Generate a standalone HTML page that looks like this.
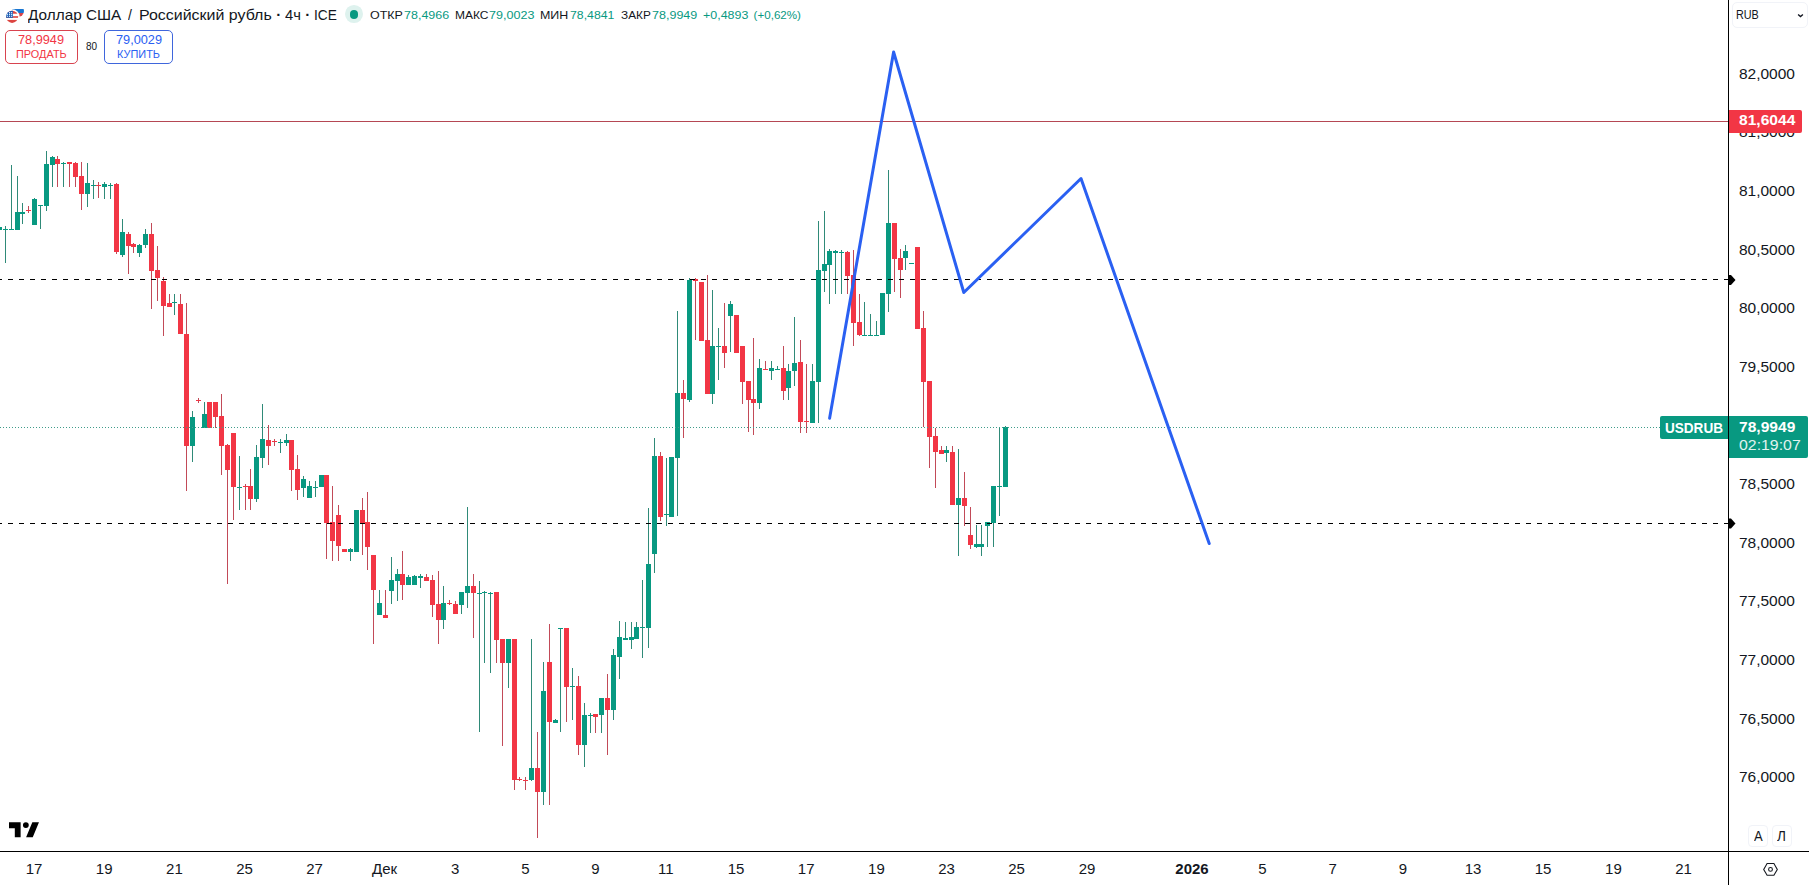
<!DOCTYPE html>
<html lang="ru"><head><meta charset="utf-8"><title>USDRUB</title>
<style>
html,body{margin:0;padding:0;background:#fff}
body{width:1809px;height:885px;position:relative;overflow:hidden;font-family:"Liberation Sans",sans-serif;color:#131722}
.t{position:absolute;white-space:nowrap;transform-origin:0 50%}
.bx{position:absolute;box-sizing:border-box}
</style></head><body>
<svg width="1809" height="885" viewBox="0 0 1809 885" style="position:absolute;left:0;top:0" shape-rendering="crispEdges">
<rect x="0" y="121" width="1728" height="1" fill="#b54854"/>
<path fill="#2f8a78" d="M5 226h1v3h-1zM5 230h1v33h-1zM11 165h1v64h-1zM17 176h1v36h-1zM22 203h1v9h-1zM22 214h1v10h-1zM34 198h1v1h-1zM40 206h1v23h-1zM46 151h1v13h-1zM46 206h1v5h-1zM52 156h1v1h-1zM52 165h1v22h-1zM63 162h1v1h-1zM63 164h1v23h-1zM87 163h1v20h-1zM87 194h1v13h-1zM93 180h1v5h-1zM93 186h1v13h-1zM104 182h1v2h-1zM104 187h1v12h-1zM110 183h1v2h-1zM110 186h1v13h-1zM122 219h1v13h-1zM122 255h1v2h-1zM139 244h1v1h-1zM139 253h1v4h-1zM145 229h1v5h-1zM145 245h1v3h-1zM174 294h1v8h-1zM174 303h1v12h-1zM192 411h1v6h-1zM192 446h1v16h-1zM204 402h1v12h-1zM239 456h1v31h-1zM239 488h1v22h-1zM256 445h1v12h-1zM256 499h1v3h-1zM262 404h1v35h-1zM262 458h1v10h-1zM280 439h1v3h-1zM280 443h1v10h-1zM286 434h1v6h-1zM286 443h1v3h-1zM303 476h1v3h-1zM303 488h1v9h-1zM309 481h1v5h-1zM315 481h1v6h-1zM315 488h1v9h-1zM350 548h1v1h-1zM350 552h1v9h-1zM379 590h1v13h-1zM391 557h1v23h-1zM391 591h1v13h-1zM397 569h1v5h-1zM397 581h1v20h-1zM408 575h1v2h-1zM414 575h1v1h-1zM420 574h1v2h-1zM420 578h1v10h-1zM443 586h1v17h-1zM443 620h1v9h-1zM461 605h1v9h-1zM467 507h1v79h-1zM467 593h1v15h-1zM479 581h1v12h-1zM479 594h1v138h-1zM484 591h1v1h-1zM484 593h1v70h-1zM490 592h1v1h-1zM490 594h1v79h-1zM508 663h1v25h-1zM531 639h1v129h-1zM531 780h1v1h-1zM543 662h1v29h-1zM543 792h1v13h-1zM555 719h1v1h-1zM560 629h1v103h-1zM572 668h1v18h-1zM572 687h1v33h-1zM584 703h1v12h-1zM584 745h1v22h-1zM590 713h1v2h-1zM590 716h1v17h-1zM601 715h1v18h-1zM613 649h1v6h-1zM613 710h1v10h-1zM619 621h1v16h-1zM619 657h1v22h-1zM625 622h1v16h-1zM631 622h1v15h-1zM631 640h1v9h-1zM636 622h1v5h-1zM642 580h1v47h-1zM642 628h1v30h-1zM648 508h1v56h-1zM648 628h1v20h-1zM654 438h1v18h-1zM654 554h1v19h-1zM666 458h1v56h-1zM666 515h1v11h-1zM677 311h1v82h-1zM677 458h1v58h-1zM689 278h1v2h-1zM689 400h1v2h-1zM712 290h1v56h-1zM712 394h1v10h-1zM718 328h1v18h-1zM718 347h1v33h-1zM730 301h1v3h-1zM730 316h1v36h-1zM759 359h1v9h-1zM759 403h1v6h-1zM771 361h1v7h-1zM771 371h1v9h-1zM777 366h1v3h-1zM788 364h1v7h-1zM788 388h1v12h-1zM794 317h1v46h-1zM794 371h1v15h-1zM812 364h1v17h-1zM818 221h1v49h-1zM818 382h1v41h-1zM824 211h1v53h-1zM824 271h1v21h-1zM829 249h1v2h-1zM829 265h1v39h-1zM835 250h1v1h-1zM835 253h1v41h-1zM841 250h1v2h-1zM841 253h1v41h-1zM864 302h1v33h-1zM870 314h1v21h-1zM876 321h1v14h-1zM888 170h1v53h-1zM888 294h1v18h-1zM905 245h1v6h-1zM905 258h1v12h-1zM946 446h1v4h-1zM946 453h1v9h-1zM958 449h1v49h-1zM958 505h1v51h-1zM976 525h1v19h-1zM976 547h1v1h-1zM981 525h1v19h-1zM981 547h1v9h-1zM987 526h1v21h-1zM993 523h1v24h-1zM999 427h1v59h-1zM999 487h1v29h-1zM1005 426h1v1h-1z"/>
<path fill="#c24a58" d="M28 206h1v4h-1zM28 211h1v2h-1zM57 156h1v3h-1zM57 164h1v23h-1zM69 164h1v23h-1zM75 162h1v1h-1zM75 177h1v10h-1zM81 162h1v14h-1zM81 194h1v16h-1zM98 182h1v3h-1zM98 186h1v12h-1zM116 183h1v1h-1zM116 252h1v2h-1zM128 232h1v2h-1zM128 246h1v28h-1zM133 243h1v1h-1zM133 247h1v6h-1zM151 223h1v11h-1zM151 271h1v38h-1zM157 246h1v24h-1zM157 278h1v23h-1zM163 277h1v4h-1zM163 306h1v30h-1zM169 294h1v9h-1zM180 294h1v10h-1zM186 303h1v31h-1zM186 446h1v45h-1zM198 398h1v2h-1zM198 401h1v2h-1zM215 417h1v11h-1zM221 394h1v22h-1zM221 446h1v29h-1zM227 444h1v1h-1zM227 470h1v114h-1zM233 487h1v33h-1zM245 484h1v2h-1zM245 487h1v23h-1zM250 469h1v17h-1zM250 499h1v11h-1zM268 425h1v15h-1zM268 446h1v19h-1zM274 439h1v2h-1zM274 442h1v4h-1zM291 470h1v21h-1zM297 455h1v14h-1zM297 490h1v10h-1zM326 523h1v36h-1zM332 486h1v36h-1zM332 541h1v20h-1zM338 505h1v10h-1zM338 546h1v15h-1zM362 498h1v12h-1zM362 523h1v32h-1zM367 492h1v30h-1zM367 547h1v23h-1zM373 590h1v54h-1zM385 590h1v25h-1zM402 551h1v23h-1zM402 585h1v15h-1zM426 574h1v3h-1zM432 575h1v5h-1zM432 605h1v12h-1zM438 571h1v33h-1zM438 620h1v24h-1zM449 600h1v3h-1zM449 604h1v1h-1zM455 601h1v3h-1zM473 574h1v12h-1zM473 593h1v45h-1zM496 640h1v23h-1zM502 663h1v83h-1zM514 780h1v10h-1zM519 777h1v2h-1zM519 780h1v1h-1zM525 777h1v3h-1zM525 781h1v9h-1zM537 732h1v36h-1zM537 792h1v46h-1zM549 624h1v38h-1zM549 722h1v83h-1zM566 687h1v35h-1zM578 676h1v10h-1zM578 745h1v10h-1zM595 717h1v16h-1zM607 674h1v24h-1zM607 710h1v45h-1zM660 452h1v4h-1zM660 517h1v4h-1zM683 380h1v13h-1zM683 399h1v39h-1zM695 278h1v1h-1zM695 281h1v59h-1zM707 275h1v65h-1zM724 303h1v43h-1zM724 353h1v15h-1zM742 382h1v22h-1zM748 400h1v32h-1zM753 338h1v61h-1zM753 403h1v32h-1zM765 361h1v8h-1zM783 346h1v22h-1zM783 391h1v9h-1zM800 340h1v22h-1zM800 422h1v11h-1zM806 364h1v57h-1zM806 422h1v11h-1zM847 251h1v1h-1zM847 276h1v18h-1zM853 250h1v25h-1zM853 323h1v23h-1zM859 294h1v28h-1zM859 335h1v1h-1zM894 259h1v33h-1zM900 249h1v9h-1zM900 270h1v28h-1zM923 311h1v17h-1zM923 382h1v45h-1zM929 437h1v31h-1zM935 428h1v8h-1zM935 452h1v36h-1zM941 446h1v4h-1zM952 446h1v6h-1zM964 472h1v26h-1zM964 506h1v20h-1zM970 507h1v28h-1zM970 545h1v4h-1z"/>
<path fill="#089981" d="M-3 227h5v3h-5zM3 229h5v1h-5zM9 229h5v1h-5zM15 212h5v18h-5zM20 212h5v2h-5zM32 199h5v26h-5zM38 205h5v1h-5zM44 164h5v42h-5zM50 157h5v8h-5zM61 163h5v1h-5zM85 183h5v11h-5zM91 185h5v1h-5zM102 184h5v3h-5zM108 185h5v1h-5zM120 232h5v23h-5zM137 245h5v8h-5zM143 234h5v11h-5zM172 302h5v1h-5zM190 417h5v29h-5zM202 414h5v14h-5zM237 487h5v1h-5zM254 457h5v42h-5zM260 439h5v19h-5zM278 442h5v1h-5zM284 440h5v3h-5zM301 479h5v9h-5zM307 486h5v12h-5zM313 487h5v1h-5zM319 475h5v12h-5zM348 549h5v3h-5zM354 510h5v42h-5zM377 603h5v12h-5zM389 580h5v11h-5zM395 574h5v7h-5zM406 577h5v8h-5zM412 576h5v9h-5zM418 576h5v2h-5zM441 603h5v17h-5zM459 592h5v13h-5zM465 586h5v7h-5zM477 593h5v1h-5zM482 592h5v1h-5zM488 593h5v1h-5zM506 639h5v24h-5zM529 768h5v12h-5zM541 691h5v101h-5zM553 720h5v3h-5zM558 628h5v1h-5zM570 686h5v1h-5zM582 715h5v30h-5zM588 715h5v1h-5zM599 698h5v17h-5zM611 655h5v55h-5zM617 637h5v20h-5zM623 638h5v2h-5zM629 637h5v3h-5zM634 627h5v12h-5zM640 627h5v1h-5zM646 564h5v64h-5zM652 456h5v98h-5zM664 514h5v1h-5zM669 457h5v60h-5zM675 393h5v65h-5zM687 280h5v120h-5zM710 346h5v48h-5zM716 346h5v1h-5zM728 304h5v12h-5zM757 368h5v35h-5zM769 368h5v3h-5zM775 369h5v1h-5zM786 371h5v17h-5zM792 363h5v8h-5zM810 381h5v42h-5zM816 270h5v112h-5zM822 264h5v7h-5zM827 251h5v14h-5zM833 251h5v2h-5zM839 252h5v1h-5zM862 335h5v1h-5zM868 335h5v1h-5zM874 335h5v1h-5zM880 293h5v42h-5zM886 223h5v71h-5zM903 251h5v7h-5zM909 263h5v1h-5zM944 450h5v3h-5zM956 498h5v7h-5zM974 544h5v3h-5zM979 544h5v3h-5zM985 522h5v4h-5zM991 486h5v37h-5zM997 486h5v1h-5zM1003 427h5v60h-5z"/>
<path fill="#F23645" d="M26 210h5v1h-5zM55 159h5v5h-5zM67 162h5v2h-5zM73 163h5v14h-5zM79 176h5v18h-5zM96 185h5v1h-5zM114 184h5v68h-5zM126 234h5v12h-5zM131 244h5v3h-5zM149 234h5v37h-5zM155 270h5v8h-5zM161 281h5v25h-5zM167 303h5v4h-5zM178 304h5v30h-5zM184 334h5v112h-5zM196 400h5v1h-5zM207 402h5v26h-5zM213 402h5v15h-5zM219 416h5v30h-5zM225 445h5v25h-5zM231 433h5v54h-5zM243 486h5v1h-5zM248 486h5v13h-5zM266 440h5v6h-5zM272 441h5v1h-5zM289 440h5v30h-5zM295 469h5v21h-5zM324 475h5v48h-5zM330 522h5v19h-5zM336 515h5v31h-5zM342 549h5v3h-5zM360 510h5v13h-5zM365 522h5v25h-5zM371 555h5v35h-5zM383 615h5v3h-5zM400 574h5v11h-5zM424 577h5v4h-5zM430 580h5v25h-5zM436 604h5v16h-5zM447 603h5v1h-5zM453 604h5v10h-5zM471 586h5v7h-5zM494 592h5v48h-5zM500 639h5v24h-5zM512 639h5v141h-5zM517 779h5v1h-5zM523 780h5v1h-5zM535 768h5v24h-5zM547 662h5v60h-5zM564 628h5v59h-5zM576 686h5v59h-5zM593 714h5v3h-5zM605 698h5v12h-5zM658 456h5v61h-5zM681 393h5v6h-5zM693 279h5v2h-5zM699 282h5v59h-5zM705 340h5v54h-5zM722 346h5v7h-5zM734 315h5v38h-5zM740 346h5v36h-5zM746 381h5v19h-5zM751 399h5v4h-5zM763 369h5v1h-5zM781 368h5v23h-5zM798 362h5v60h-5zM804 421h5v1h-5zM845 252h5v24h-5zM851 275h5v48h-5zM857 322h5v13h-5zM892 223h5v36h-5zM898 258h5v12h-5zM915 247h5v82h-5zM921 328h5v54h-5zM927 381h5v56h-5zM933 436h5v16h-5zM939 450h5v4h-5zM950 452h5v53h-5zM962 498h5v8h-5zM968 535h5v10h-5z"/>
<path d="M-3 279.5H1728M-3 523.5H1728" stroke="#000" stroke-width="1" stroke-dasharray="5 6" fill="none"/>
<path d="M0 427.5H1660" stroke="#3f9c8a" stroke-width="1" stroke-dasharray="1 2" fill="none"/>
<polyline points="829.6,418.2 893.6,52 963.8,292.5 1081,178.5 1209.2,543.5" fill="none" stroke="#2a60f2" stroke-width="3" stroke-linejoin="round" stroke-linecap="round" shape-rendering="geometricPrecision"/>
<rect x="1728" y="0" width="1" height="885" fill="#000"/>
<rect x="0" y="851" width="1809" height="1" fill="#000"/>
<g shape-rendering="geometricPrecision" fill="#000">
<path d="M1729 275h2l4.5 5l-4.5 5h-2z"/>
<path d="M1729 518.5h2l4.5 5l-4.5 5h-2z"/>
</g>
</svg>
<svg width="30" height="30" viewBox="0 0 30 30" style="position:absolute;left:0;top:0">
<defs><clipPath id="ru"><circle cx="17.9" cy="11" r="6.1"/></clipPath><clipPath id="us"><circle cx="12.1" cy="16.8" r="6.1"/></clipPath></defs>
<g clip-path="url(#ru)"><rect x="10" y="4" width="16" height="5" fill="#fff"/><rect x="10" y="9" width="16" height="4" fill="#1976d2"/><rect x="10" y="13" width="16" height="6" fill="#d9434a"/></g>
<circle cx="12.1" cy="16.8" r="7.6" fill="#fff"/>
<g clip-path="url(#us)"><rect x="5" y="10" width="15" height="14" fill="#fff"/>
<rect x="5" y="10" width="15" height="3.7" fill="#dc4440"/><rect x="5" y="16.2" width="15" height="1.6" fill="#dc4440"/><rect x="5" y="19.9" width="15" height="4" fill="#dc4440"/>
<rect x="5" y="10" width="7.9" height="7.8" fill="#1d5fb6"/>
<g fill="#dff0ff"><rect x="6.8" y="12" width="1.1" height="1.2"/><rect x="9" y="12" width="1.1" height="1.2"/><rect x="11.1" y="12" width="1.1" height="1.2"/><rect x="6.8" y="13.8" width="1.1" height="1.2"/><rect x="9" y="13.8" width="1.1" height="1.2"/><rect x="11.1" y="13.8" width="1.1" height="1.2"/><rect x="6.8" y="15.7" width="1.1" height="1.2"/><rect x="9" y="15.7" width="1.1" height="1.2"/><rect x="11.1" y="15.7" width="1.1" height="1.2"/></g>
</g>
</svg>
<div class="bx" style="left:344.9px;top:5.4px;width:17.8px;height:17.8px;border-radius:50%;background:#def2ee"></div><div class="bx" style="left:349.5px;top:10px;width:8.6px;height:8.6px;border-radius:50%;background:#089981"></div>
<div class="bx" style="left:5px;top:30px;width:73px;height:34px;border:1px solid #d8434f;border-radius:5px"></div>
<div class="bx" style="left:104px;top:30px;width:69px;height:34px;border:1px solid #3f66dc;border-radius:5px"></div>
<div class="t" style="top:5.60px;font-size:15px;line-height:18px;color:#131722;left:27.90px;transform:scaleX(1.0219)">Доллар США</div>
<div class="t" style="top:5.60px;font-size:15px;line-height:18px;color:#131722;left:127.90px;transform:scaleX(0.9348)">/</div>
<div class="t" style="top:5.60px;font-size:15px;line-height:18px;color:#131722;left:139.40px;transform:scaleX(1.0636)">Российский рубль</div>
<div class="t" style="top:5.60px;font-size:15px;line-height:18px;color:#131722;font-weight:bold;left:276.30px">·</div>
<div class="t" style="top:5.60px;font-size:15px;line-height:18px;color:#131722;left:284.70px;transform:scaleX(0.9832)">4ч</div>
<div class="t" style="top:5.60px;font-size:15px;line-height:18px;color:#131722;font-weight:bold;left:305.20px">·</div>
<div class="t" style="top:5.60px;font-size:15px;line-height:18px;color:#131722;left:313.70px;transform:scaleX(0.9154)">ICE</div>
<div class="t" style="top:8.48px;font-size:11.6px;line-height:14px;color:#131722;left:370.00px;transform:scaleX(1.0754)">ОТКР</div>
<div class="t" style="top:8.48px;font-size:11.6px;line-height:14px;color:#089981;left:404.00px;transform:scaleX(1.0782)">78,4966</div>
<div class="t" style="top:8.48px;font-size:11.6px;line-height:14px;color:#131722;left:454.60px;transform:scaleX(1.0342)">МАКС</div>
<div class="t" style="top:8.48px;font-size:11.6px;line-height:14px;color:#089981;left:489.40px;transform:scaleX(1.0830)">79,0023</div>
<div class="t" style="top:8.48px;font-size:11.6px;line-height:14px;color:#131722;left:540.00px;transform:scaleX(1.0730)">МИН</div>
<div class="t" style="top:8.48px;font-size:11.6px;line-height:14px;color:#089981;left:569.60px;transform:scaleX(1.0591)">78,4841</div>
<div class="t" style="top:8.48px;font-size:11.6px;line-height:14px;color:#131722;left:620.50px;transform:scaleX(1.0193)">ЗАКР</div>
<div class="t" style="top:8.48px;font-size:11.6px;line-height:14px;color:#089981;left:651.60px;transform:scaleX(1.0806)">78,9949</div>
<div class="t" style="top:8.48px;font-size:11.6px;line-height:14px;color:#089981;left:703.20px;transform:scaleX(1.0726)">+0,4893</div>
<div class="t" style="top:8.48px;font-size:11.6px;line-height:14px;color:#089981;left:753.60px">(+0,62%)</div>
<div class="t" style="top:32.67px;font-size:12.2px;line-height:15px;color:#F23645;left:18.30px;transform:scaleX(1.0440)">78,9949</div>
<div class="t" style="top:48.10px;font-size:10.4px;line-height:13px;color:#F23645;left:15.80px;transform:scaleX(1.0484)">ПРОДАТЬ</div>
<div class="t" style="top:40.30px;font-size:10.4px;line-height:13px;color:#131722;left:85.50px;transform:scaleX(0.9600)">80</div>
<div class="t" style="top:32.67px;font-size:12.2px;line-height:15px;color:#2a60f2;left:115.80px;transform:scaleX(1.0440)">79,0029</div>
<div class="t" style="top:48.10px;font-size:10.4px;line-height:13px;color:#2a60f2;left:116.80px;transform:scaleX(1.0520)">КУПИТЬ</div>
<div class="t" style="top:63.83px;font-size:15.5px;line-height:19px;color:#131722;left:1738.90px">82,0000</div>
<div class="t" style="top:122.44px;font-size:15.5px;line-height:19px;color:#131722;left:1738.90px">81,5000</div>
<div class="t" style="top:181.05px;font-size:15.5px;line-height:19px;color:#131722;left:1738.90px">81,0000</div>
<div class="t" style="top:239.66px;font-size:15.5px;line-height:19px;color:#131722;left:1738.90px">80,5000</div>
<div class="t" style="top:298.27px;font-size:15.5px;line-height:19px;color:#131722;left:1738.90px">80,0000</div>
<div class="t" style="top:356.88px;font-size:15.5px;line-height:19px;color:#131722;left:1738.90px">79,5000</div>
<div class="t" style="top:474.10px;font-size:15.5px;line-height:19px;color:#131722;left:1738.90px">78,5000</div>
<div class="t" style="top:532.71px;font-size:15.5px;line-height:19px;color:#131722;left:1738.90px">78,0000</div>
<div class="t" style="top:591.32px;font-size:15.5px;line-height:19px;color:#131722;left:1738.90px">77,5000</div>
<div class="t" style="top:649.93px;font-size:15.5px;line-height:19px;color:#131722;left:1738.90px">77,0000</div>
<div class="t" style="top:708.54px;font-size:15.5px;line-height:19px;color:#131722;left:1738.90px">76,5000</div>
<div class="t" style="top:767.15px;font-size:15.5px;line-height:19px;color:#131722;left:1738.90px">76,0000</div>
<div class="t" style="top:860.10px;font-size:15px;line-height:18px;color:#131722;left:25.66px">17</div>
<div class="t" style="top:860.10px;font-size:15px;line-height:18px;color:#131722;left:95.86px">19</div>
<div class="t" style="top:860.10px;font-size:15px;line-height:18px;color:#131722;left:166.06px">21</div>
<div class="t" style="top:860.10px;font-size:15px;line-height:18px;color:#131722;left:236.26px">25</div>
<div class="t" style="top:860.10px;font-size:15px;line-height:18px;color:#131722;left:306.26px">27</div>
<div class="t" style="top:860.10px;font-size:15px;line-height:18px;color:#131722;left:372.06px">Дек</div>
<div class="t" style="top:860.10px;font-size:15px;line-height:18px;color:#131722;left:451.03px">3</div>
<div class="t" style="top:860.10px;font-size:15px;line-height:18px;color:#131722;left:521.23px">5</div>
<div class="t" style="top:860.10px;font-size:15px;line-height:18px;color:#131722;left:591.23px">9</div>
<div class="t" style="top:860.10px;font-size:15px;line-height:18px;color:#131722;left:658.11px">11</div>
<div class="t" style="top:860.10px;font-size:15px;line-height:18px;color:#131722;left:727.66px">15</div>
<div class="t" style="top:860.10px;font-size:15px;line-height:18px;color:#131722;left:797.86px">17</div>
<div class="t" style="top:860.10px;font-size:15px;line-height:18px;color:#131722;left:868.06px">19</div>
<div class="t" style="top:860.10px;font-size:15px;line-height:18px;color:#131722;left:938.26px">23</div>
<div class="t" style="top:860.10px;font-size:15px;line-height:18px;color:#131722;left:1008.26px">25</div>
<div class="t" style="top:860.10px;font-size:15px;line-height:18px;color:#131722;left:1078.66px">29</div>
<div class="t" style="top:860.10px;font-size:15px;line-height:18px;color:#131722;font-weight:bold;left:1175.31px">2026</div>
<div class="t" style="top:860.10px;font-size:15px;line-height:18px;color:#131722;left:1258.33px">5</div>
<div class="t" style="top:860.10px;font-size:15px;line-height:18px;color:#131722;left:1328.53px">7</div>
<div class="t" style="top:860.10px;font-size:15px;line-height:18px;color:#131722;left:1398.73px">9</div>
<div class="t" style="top:860.10px;font-size:15px;line-height:18px;color:#131722;left:1464.66px">13</div>
<div class="t" style="top:860.10px;font-size:15px;line-height:18px;color:#131722;left:1534.66px">15</div>
<div class="t" style="top:860.10px;font-size:15px;line-height:18px;color:#131722;left:1605.06px">19</div>
<div class="t" style="top:860.10px;font-size:15px;line-height:18px;color:#131722;left:1675.26px">21</div>
<div class="bx" style="left:1729px;top:110px;width:73.2px;height:22.6px;background:#F23645;border-radius:0 2px 2px 0"></div>
<div class="bx" style="left:1660px;top:416px;width:68px;height:22.8px;background:#089981;border-radius:2px 0 0 2px"></div>
<div class="bx" style="left:1729px;top:416px;width:78.5px;height:42px;background:#089981;border-radius:0 2px 2px 0"></div>
<div class="t" style="top:111.24px;font-size:14.6px;line-height:18px;color:#fff;font-weight:bold;left:1738.90px;transform:scaleX(1.0670)">81,6044</div>
<div class="t" style="top:418.70px;font-size:15px;line-height:18px;color:#fff;font-weight:bold;left:1664.80px;transform:scaleX(0.9038)">USDRUB</div>
<div class="t" style="top:417.54px;font-size:14.6px;line-height:18px;color:#fff;font-weight:bold;left:1738.90px;transform:scaleX(1.0670)">78,9949</div>
<div class="t" style="top:436.10px;font-size:15px;line-height:18px;color:#e1f3ef;left:1738.90px;transform:scaleX(1.0567)">02:19:07</div>
<div class="bx" style="left:1732px;top:2px;width:75.5px;height:26px;border:1px solid #f1f3f8;border-radius:5px"></div><div class="t" style="left:1736px;top:8.3px;font-size:12px;line-height:14px;transform:scaleX(.9)">RUB</div>
<svg width="10" height="8" viewBox="0 0 10 8" style="position:absolute;left:1795px;top:11px"><path d="M3.1 3.5l2.4 2.1l2.4-2.1" fill="none" stroke="#131722" stroke-width="1.4"/></svg>
<div class="bx" style="left:1748.4px;top:825px;width:19.6px;height:22px;border:1px solid #f1f3f8;border-radius:4px"></div><div class="bx" style="left:1772.3px;top:825px;width:19.4px;height:22px;border:1px solid #f1f3f8;border-radius:4px"></div>
<div class="t" style="left:1753.6px;top:827.8px;font-size:14px;line-height:16px;transform:scaleX(.93)">А</div><div class="t" style="left:1777.3px;top:827.8px;font-size:14px;line-height:16px;transform:scaleX(.97)">Л</div>
<svg width="20" height="20" viewBox="0 0 20 20" style="position:absolute;left:1761px;top:860px"><path d="M6.1 3.5h6.8l3.4 5.9l-3.4 5.9h-6.8l-3.4-5.9z" fill="none" stroke="#15181f" stroke-width="1.1"/><circle cx="9.5" cy="9.4" r="1.9" fill="none" stroke="#15181f" stroke-width="1.1"/></svg>
<svg width="29.9" height="23.3" viewBox="0 0 36 28" style="position:absolute;left:9.1px;top:819.1px"><path fill="#000" d="M14 22H7V11H0V4h14v18zM28.6 22h-8l7.5-18h8l-7.5 18z"/><circle cx="20.3" cy="7.3" r="3.5" fill="#000"/></svg>
</body></html>
